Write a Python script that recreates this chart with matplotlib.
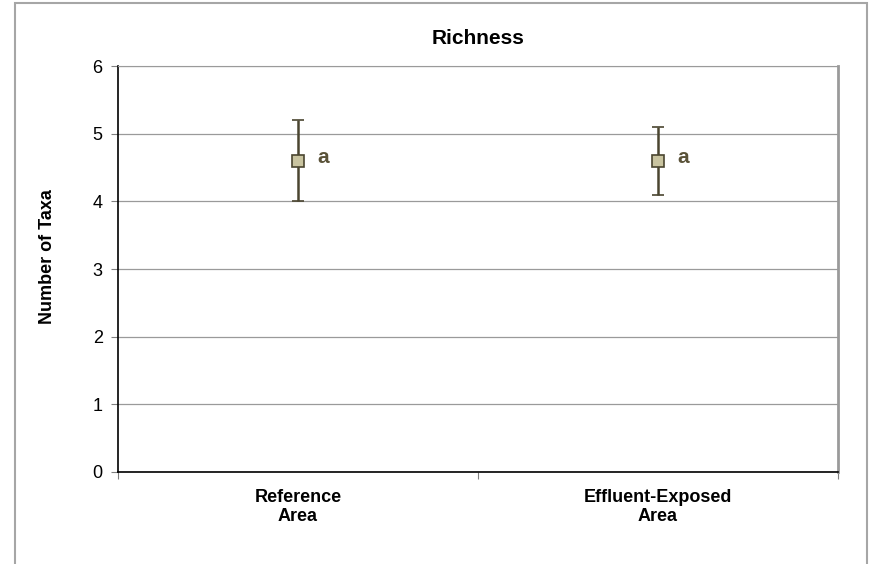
import matplotlib

matplotlib.use("Agg")
import matplotlib.pyplot as plt
from matplotlib.patches import Rectangle

plt.rcParams["font.family"] = ["Liberation Sans", "DejaVu Sans"]

categories = ["Reference\nArea", "Effluent-Exposed\nArea"]
means = [4.6, 4.6]
lower = [4.0, 4.1]
upper = [5.2, 5.1]
letters = ["a", "a"]

line_col = "#4a4530"
face_col = "#c9c4a0"

fig = plt.figure(figsize=(8.71, 5.64), dpi=100)
# outer chart frame
fig.patches.append(Rectangle((15 / 871, -0.01), 852 / 871, 1.0 - 3 / 564 + 0.01,
                             transform=fig.transFigure, fill=False,
                             edgecolor="#a6a6a6", linewidth=1.5))

ax = fig.add_axes([118 / 871, 92 / 564, 720 / 871, 406 / 564])
x = [0.5, 1.5]
yerr = [[m - lo for m, lo in zip(means, lower)],
        [hi - m for m, hi in zip(means, upper)]]
ax.errorbar(x, means, yerr=yerr, fmt="s", color=line_col, ecolor=line_col,
            elinewidth=1.8, capsize=4.5, capthick=1.8, markersize=8.5,
            markerfacecolor=face_col, markeredgecolor=line_col,
            markeredgewidth=1.2, zorder=3)
for xi, m, lab in zip(x, means, letters):
    ax.annotate(lab, (xi, m), xytext=(14, 2), textcoords="offset points",
                fontsize=15, fontweight="bold", color="#5a5238",
                va="center", ha="left")

ax.set_xlim(0, 2)
ax.set_ylim(0, 6)
ax.set_yticks(range(0, 7))
ax.set_xticks([0, 1, 2])
ax.set_xticklabels([])
ax.set_xticks(x, minor=True)
ax.set_xticklabels(categories, minor=True, fontsize=13, fontweight="bold")
ax.tick_params(axis="x", which="minor", length=0, pad=12)
ax.tick_params(axis="x", which="major", length=5, direction="out", color="#808080")
ax.tick_params(axis="y", length=5, direction="out", color="#808080", labelsize=13, pad=6)
ax.grid(axis="y", color="#9a9a9a", linewidth=0.9)
ax.set_axisbelow(True)
for side in ("top", "right"):
    ax.spines[side].set_color("#9a9a9a")
ax.spines["right"].set_linewidth(2)
ax.spines["left"].set_color("black")
ax.spines["bottom"].set_color("black")
ax.spines["left"].set_linewidth(1.2)
ax.spines["bottom"].set_linewidth(1.2)

ax.set_ylabel("Number of Taxa", fontsize=13, fontweight="bold")
ax.yaxis.set_label_coords(-0.086, 0.53)
ax.set_title("Richness", fontsize=15, fontweight="bold", pad=16)

fig.savefig("out.png", dpi=100)
